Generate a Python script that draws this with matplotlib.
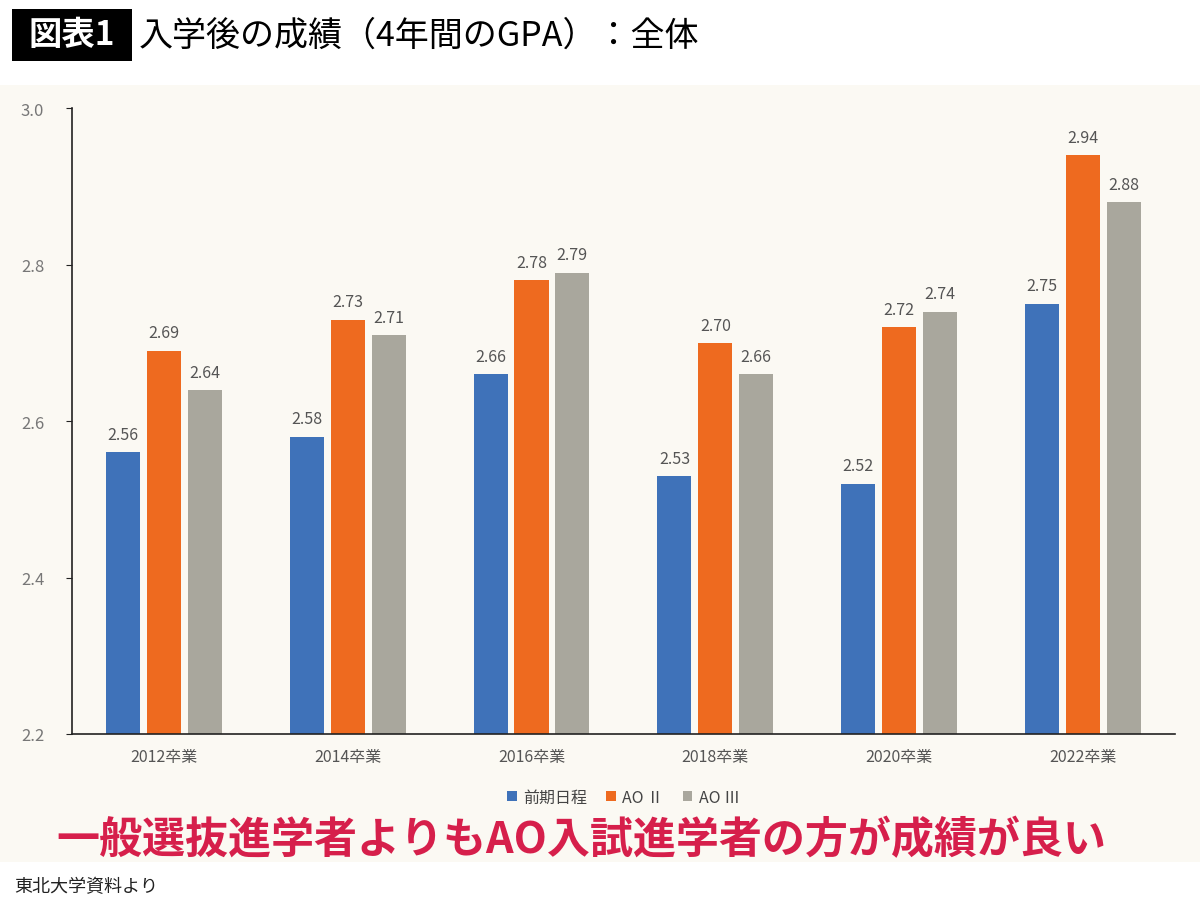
import matplotlib.pyplot as plt
import matplotlib.patches as mpatches
import numpy as np

plt.rcParams['font.family'] = ['Noto Sans CJK JP', 'DejaVu Sans']

years = ["2012卒業", "2014卒業", "2016卒業", "2018卒業", "2020卒業", "2022卒業"]
seriesNames = ["前期日程", "AO Ⅱ", "AO Ⅲ"]
zenki = [2.56, 2.58, 2.66, 2.53, 2.52, 2.75]
ao2 = [2.69, 2.73, 2.78, 2.70, 2.72, 2.94]
ao3 = [2.64, 2.71, 2.79, 2.66, 2.74, 2.88]
yTicks = [2.2, 2.4, 2.6, 2.8, 3.0]

colors = ["#3f72b9", "#ee6a1f", "#a9a79d"]
labelColor = "#555555"

fig = plt.figure(figsize=(12, 9.04), dpi=100)
fig.patch.set_facecolor("white")

# Papierhintergrund (Scan)
fig.patches.append(mpatches.Rectangle((0, 0.045), 1, 0.86, transform=fig.transFigure,
                                      facecolor="#fbf9f3", edgecolor="none", zorder=-5))

ax = fig.add_axes([0.06, 0.187, 0.919, 0.692])
ax.set_facecolor("none")
ax.set_zorder(2)

x = np.arange(len(years))
width = 0.185
step = 0.222
for i, (name, vals) in enumerate(zip(seriesNames, [zenki, ao2, ao3])):
    pos = x + (i - 1) * step
    ax.bar(pos, vals, width=width, color=colors[i], label=name, zorder=2)
    for px, v in zip(pos, vals):
        ax.text(px, v + 0.012, f"{v:.2f}", ha="center", va="bottom",
                fontsize=11.5, color=labelColor)

ax.set_xlim(-0.5, len(years) - 0.5)
ax.set_ylim(2.2, 3.0)
ax.set_yticks(yTicks)
ax.set_yticklabels([f"{t:.1f}" for t in yTicks], fontsize=12, color="#777777")
ax.set_xticks(x)
ax.set_xticklabels(years, fontsize=11.5, color=labelColor)
ax.tick_params(axis="x", length=0, pad=10)
ax.tick_params(axis="y", length=4, color="#222222", pad=16)
for s in ["top", "right"]:
    ax.spines[s].set_visible(False)
ax.spines["left"].set_color("#222222")
ax.spines["bottom"].set_color("#222222")
ax.spines["left"].set_linewidth(1.2)
ax.spines["bottom"].set_linewidth(1.2)

leg = ax.legend(loc="upper center", bbox_to_anchor=(0.5, -0.065), ncol=3, frameon=False,
                fontsize=11.5, handlelength=0.6, handleheight=0.6, handletextpad=0.4,
                columnspacing=1.2)
for t in leg.get_texts():
    t.set_color("#444444")

# Titel
fig.patches.append(mpatches.Rectangle((12 / 1200, 1 - 62 / 904), 120 / 1200, 52 / 904,
                                      transform=fig.transFigure, facecolor="black",
                                      edgecolor="none"))
fig.text(72 / 1200, 1 - 36 / 904, "図表1", fontsize=24, fontweight="bold", color="white",
         va="center", ha="center")
fig.text(0.116, 1 - 36 / 904, "入学後の成績（4年間のGPA）：全体", fontsize=24.5,
         fontweight="normal", color="black", va="center", ha="left")

# Kernaussage
fig.text(0.484, 0.071, "一般選抜進学者よりもAO入試進学者の方が成績が良い", fontsize=31,
         fontweight="bold", color="#d61f4b", ha="center", va="center")

fig.text(0.012, 0.019, "東北大学資料より", fontsize=13, color="#222222",
         ha="left", va="center")

fig.savefig("out.png", dpi=100, facecolor=fig.get_facecolor())
